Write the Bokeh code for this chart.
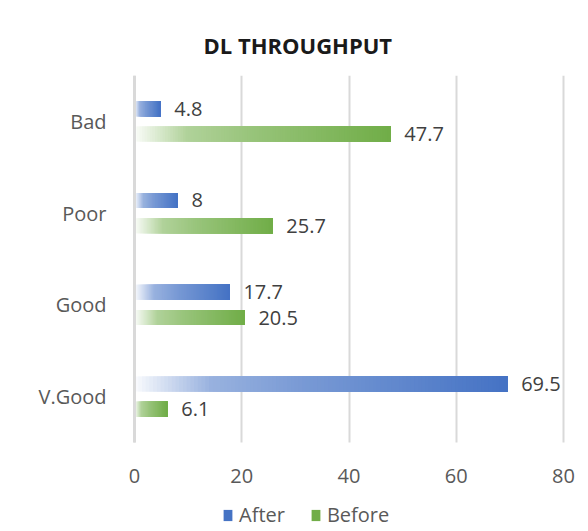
from bokeh.plotting import figure
from bokeh.models import (ColumnDataSource, Range1d, LabelSet, BoxAnnotation,
                          Legend, LegendItem, FixedTicker)
from bokeh.core.properties import value
from bokeh.embed import file_html
from bokeh.resources import INLINE

# ---- data ----
categories = ["Bad", "Poor", "Good", "V.Good"]
after = [4.8, 8, 17.7, 69.5]
before = [47.7, 25.7, 20.5, 6.1]
x_ticks = [0, 20, 40, 60, 80]

FONT = "Open Sans"
FS = "20px"
BLUE = (68, 114, 196)
GREEN = (112, 173, 71)

n_cat = len(categories)
cat_pos = [n_cat - i - 0.5 for i in range(n_cat)]   # top to bottom
Y_MIN = -0.97          # room below the value axis for tick labels and legend
X_MIN, X_MAX = -24.99, 83.17   # room left of the category axis for its labels

BAR_H = 0.165
OFF = 0.138
N_SLICES = 100


def mix(base, f):
    r = [round(255 - f * (255 - c)) for c in base]
    return "#%02x%02x%02x" % tuple(r)


def profile(t):
    # gradient profile: white at bar start, full colour at bar end
    pts = [(0.0, 0.04), (0.2, 0.55), (0.45, 0.72), (1.0, 1.0)]
    for (t0, f0), (t1, f1) in zip(pts[:-1], pts[1:]):
        if t <= t1:
            return f0 + (f1 - f0) * (t - t0) / (t1 - t0)
    return 1.0


def slices(values, base, off, n=N_SLICES):
    y, left, right, color = [], [], [], []
    for i in range(n):
        t = i / n
        for pos, v in zip(cat_pos, values):
            y.append(pos + off)
            left.append(v * t)
            right.append(v)
            color.append(mix(base, profile(t)))
    return ColumnDataSource(dict(y=y, left=left, right=right, color=color))


p = figure(width=580, height=531, output_backend="svg", toolbar_location=None,
           y_range=Range1d(Y_MIN, n_cat), x_range=Range1d(X_MIN, X_MAX),
           min_border_left=0, min_border_right=0,
           min_border_top=75, min_border_bottom=0)

p.outline_line_color = None
p.background_fill_color = "white"
p.border_fill_color = "white"

# grid
p.xgrid.grid_line_color = "#d9d9d9"
p.xgrid.grid_line_width = 2
p.ygrid.grid_line_color = None
# hide grid lines below the value axis
p.add_layout(BoxAnnotation(bottom=Y_MIN, top=0, fill_color="white", fill_alpha=1,
                           line_color=None, level="underlay"))

r_after = p.hbar(y="y", left="left", right="right", height=BAR_H, fill_color="color",
                 line_color=None, source=slices(after, BLUE, OFF))
r_before = p.hbar(y="y", left="left", right="right", height=BAR_H, fill_color="color",
                  line_color=None, source=slices(before, GREEN, -OFF))

# data labels
for vals, off in ((after, OFF), (before, -OFF)):
    src = ColumnDataSource(dict(y=[c + off for c in cat_pos], x=vals,
                                t=["%g" % v for v in vals]))
    p.add_layout(LabelSet(x="x", y="y", text="t", source=src, x_offset=14,
                          text_baseline="middle", text_font=value(FONT),
                          text_font_size=value(FS), text_color="#404040"))

# legend (swatch colour taken from the last, fullest gradient slice)
last = (N_SLICES - 1) * n_cat
legend = Legend(items=[LegendItem(label="After", renderers=[r_after], index=last),
                       LegendItem(label="Before", renderers=[r_before], index=last)],
                orientation="horizontal", location=(222, 3),
                border_line_color=None, background_fill_alpha=0,
                label_text_font=FONT, label_text_font_size=FS,
                label_text_color="#595959", glyph_width=11, glyph_height=14,
                label_standoff=6, spacing=25, padding=0, margin=0,
                label_height=20)
p.add_layout(legend, "center")

# axes
p.xaxis.fixed_location = 0
p.xaxis.ticker = FixedTicker(ticks=x_ticks)
p.xaxis.axis_line_color = None
p.xaxis.major_tick_line_color = None
p.xaxis.minor_tick_line_color = None
p.xaxis.major_label_text_font = FONT
p.xaxis.major_label_text_font_size = FS
p.xaxis.major_label_text_color = "#595959"
p.xaxis.major_label_standoff = 20

p.yaxis.fixed_location = 0
p.yaxis.bounds = (0, n_cat)
p.yaxis.ticker = FixedTicker(ticks=cat_pos)
p.yaxis.major_label_overrides = {pos: c for pos, c in zip(cat_pos, categories)}
p.yaxis.axis_line_color = "#d9d9d9"
p.yaxis.axis_line_width = 3
p.yaxis.major_tick_line_color = None
p.yaxis.minor_tick_line_color = None
p.yaxis.major_label_text_font = FONT
p.yaxis.major_label_text_font_size = FS
p.yaxis.major_label_text_color = "#595959"
p.yaxis.major_label_standoff = 22

# title
p.title.text = "DL THROUGHPUT"
p.title.text_font = FONT
p.title.text_font_style = "bold"
p.title.text_font_size = "22px"
p.title.text_color = "#1a1a1a"
p.title.align = "left"
p.title.offset = 203
p.title.standoff = 31

open("out.html", "w").write(file_html(p, INLINE))
